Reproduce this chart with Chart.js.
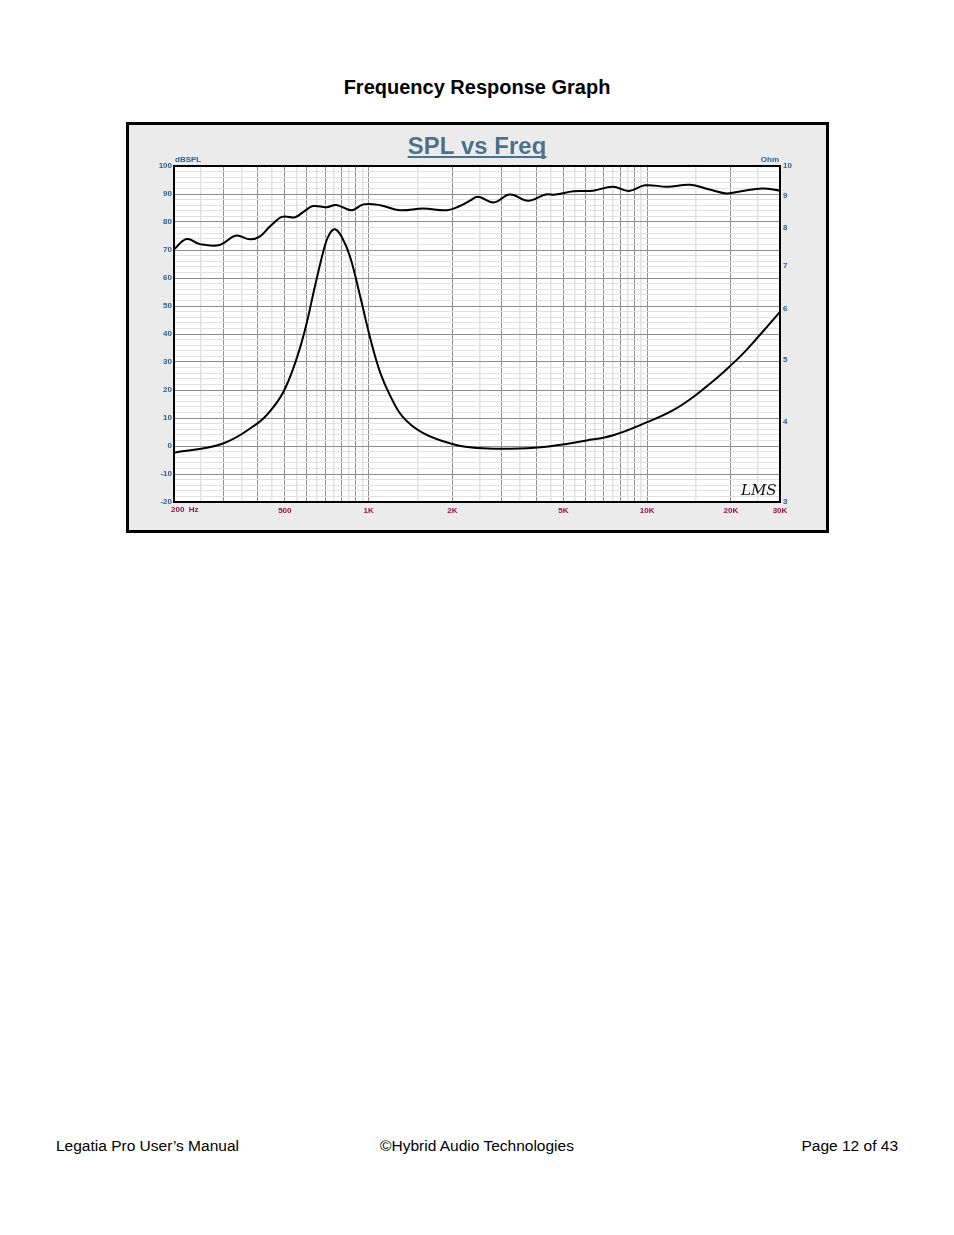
<!DOCTYPE html>
<html>
<head>
<meta charset="utf-8">
<script src="https://cdn.jsdelivr.net/npm/chart.js@4.4.0/dist/chart.umd.min.js"></script>
<style>
  body { margin: 0; background: #fff; font-family: "Liberation Sans", Arial, sans-serif; }
  #page { position: relative; width: 954px; height: 1235px; }
  #heading { position: absolute; top: 76px; left: 0; width: 954px; text-align: center; font-weight: bold; font-size: 20px; color: #000; }
  #frame { position: absolute; left: 126px; top: 122px; width: 703px; height: 411px; box-sizing: border-box; border: 3px solid #000; background: #ebebeb; }
  #frame canvas { display: block; }
  .foot { position: absolute; top: 1137px; font-size: 15.5px; color: #000; }
</style>
</head>
<body>
<div id="page">
  <div id="heading">Frequency Response Graph</div>
  <div id="frame"><canvas id="splchart" width="697" height="405"></canvas></div>
  <div class="foot" style="left:56px">Legatia Pro User’s Manual</div>
  <div class="foot" style="left:0;width:954px;text-align:center">©Hybrid Audio Technologies</div>
  <div class="foot" style="right:56px">Page 12 of 43</div>
</div>
<script>
// SPL curve (dB)
const splFreq = [200, 222, 248, 292, 333, 375, 406, 440, 480, 500, 544, 590, 632, 706, 765, 869, 958, 1102, 1294, 1570, 1909, 2127, 2311, 2467, 2812, 3214, 3741, 4322, 4681, 5438, 6400, 7532, 8600, 9825, 11830, 14250, 16630, 19260, 21750, 25900, 30000];
const splValues = [70.2, 73.9, 72.1, 71.8, 75.1, 73.8, 74.8, 78.2, 81.5, 82.0, 81.7, 84.0, 85.7, 85.3, 86.1, 84.2, 86.3, 86.0, 84.2, 84.8, 84.2, 85.7, 87.6, 89.0, 87.0, 89.8, 87.6, 89.8, 89.8, 91.0, 91.2, 92.6, 91.1, 93.1, 92.6, 93.3, 91.7, 90.2, 91.0, 92.0, 91.2];

// impedance curve (Ohm)
const impFreq = [200, 300, 400, 442, 494, 544, 591, 641, 697, 726, 758, 800, 857, 933, 1017, 1102, 1192, 1326, 1570, 2013, 2467, 3126, 4152, 6066, 7556, 9962, 12410, 14650, 16360, 18010, 19830, 22140, 24750, 27220, 30000];
const impValues = [3.58, 3.70, 3.98, 4.15, 4.45, 4.93, 5.56, 6.49, 7.53, 7.86, 7.97, 7.76, 7.23, 6.26, 5.36, 4.76, 4.40, 4.07, 3.84, 3.69, 3.64, 3.63, 3.65, 3.74, 3.81, 3.99, 4.17, 4.37, 4.54, 4.70, 4.88, 5.11, 5.39, 5.65, 5.93];

// axis labels
const freqLabels = { 500: "500", 1000: "1K", 2000: "2K", 5000: "5K", 10000: "10K", 20000: "20K", 30000: "30K" };
const ohmTicks = [3, 4, 5, 6, 7, 8, 9, 10];

const blue = "#2d5e92";
const red = "#8e1447";
const font = "Liberation Sans";

// grid every 1/2 step of each decade, 200 .. 30000
const freqGrid = [];
[100, 1000, 10000].forEach(d => {
  for (let m = 1; m < 10; m += 0.5) {
    const f = m * d;
    if (f >= 200 && f <= 30000) freqGrid.push(f);
  }
});

const isMajorFreq = v => {
  const d = Math.pow(10, Math.floor(Math.log10(v) + 1e-9));
  return Math.abs(v / d - Math.round(v / d)) < 1e-6;
};

const decor = {
  id: "decor",
  beforeDraw(chart) {
    const { ctx, chartArea: a } = chart;
    ctx.save();
    ctx.fillStyle = "#fff";
    ctx.fillRect(a.left, a.top, a.right - a.left, a.bottom - a.top);
    ctx.restore();
  },
  afterDraw(chart) {
    const { ctx, chartArea: a } = chart;
    ctx.save();
    ctx.strokeStyle = "#000";
    ctx.lineWidth = 2;
    ctx.strokeRect(a.left, a.top, a.right - a.left, a.bottom - a.top);

    // title
    ctx.fillStyle = "#4b728c";
    ctx.font = "bold 24px '" + font + "'";
    ctx.textAlign = "center";
    ctx.textBaseline = "alphabetic";
    const t = "SPL vs Freq";
    ctx.fillText(t, 348, 29);
    const w = ctx.measureText(t).width;
    ctx.fillRect(348 - w / 2, 31, w, 2);

    ctx.font = "bold 8px '" + font + "'";
    ctx.fillStyle = blue;
    ctx.textAlign = "left";
    ctx.fillText("dBSPL", a.left + 1, a.top - 4);
    ctx.textAlign = "right";
    ctx.fillText("Ohm", a.right - 1, a.top - 4);

    ctx.fillStyle = red;
    ctx.textAlign = "left";
    ctx.textBaseline = "middle";
    ctx.fillText("200  Hz", a.left - 3, a.bottom + 8);

    ctx.fillStyle = "#111";
    ctx.font = "italic 15px 'DejaVu Serif'";
    ctx.textAlign = "left";
    ctx.textBaseline = "alphabetic";
    ctx.fillText("LMS", 612, 370);
    ctx.restore();
  }
};

const data = {
  datasets: [
    {
      label: "SPL",
      data: splFreq.map((f, i) => ({ x: f, y: splValues[i] })),
      yAxisID: "y",
      borderColor: "#000",
      borderWidth: 2,
      pointRadius: 0,
      tension: 0.4
    },
    {
      label: "Impedance",
      data: impFreq.map((f, i) => ({ x: f, y: impValues[i] })),
      yAxisID: "y2",
      borderColor: "#000",
      borderWidth: 2,
      pointRadius: 0,
      tension: 0.4
    }
  ]
};

const options = {
  responsive: false,
  animation: false,
  layout: { padding: { top: 41, left: 0, right: 0, bottom: 0 } },
  plugins: { legend: { display: false }, tooltip: { enabled: false } },
  scales: {
    x: {
      type: "logarithmic",
      min: 200,
      max: 30000,
      afterBuildTicks: s => { s.ticks = freqGrid.map(v => ({ value: v })); },
      afterFit: s => { s.height = 28; },
      grid: {
        drawTicks: false,
        color: c => (c.tick && isMajorFreq(c.tick.value) ? "#8f8f8f" : "#e2e2e2"),
        lineWidth: c => (c.tick && isMajorFreq(c.tick.value) ? 1 : 1.5)
      },
      border: { color: "#000", width: 2 },
      ticks: {
        autoSkip: false,
        maxRotation: 0,
        padding: 4,
        color: red,
        font: { family: font, size: 8, weight: "bold" },
        callback: v => freqLabels[v] || ""
      }
    },
    y: {
      type: "linear",
      position: "left",
      min: -20,
      max: 100,
      afterFit: s => { s.width = 45; },
      grid: {
        drawTicks: false,
        color: c => (c.tick && c.tick.value % 10 === 0 ? "#8f8f8f" : "#e2e2e2")
      },
      border: { color: "#000", width: 2 },
      ticks: {
        stepSize: 2,
        autoSkip: false,
        padding: 2,
        color: blue,
        font: { family: font, size: 8, weight: "bold" },
        callback: v => (v % 10 === 0 ? v : "")
      }
    },
    y2: {
      type: "logarithmic",
      position: "right",
      min: 3,
      max: 10,
      afterBuildTicks: s => { s.ticks = ohmTicks.map(v => ({ value: v })); },
      afterFit: s => { s.width = 46; },
      grid: { display: false, drawTicks: false },
      border: { color: "#000", width: 2 },
      ticks: {
        autoSkip: false,
        padding: 3,
        color: blue,
        font: { family: font, size: 8, weight: "bold" },
        callback: v => String(v)
      }
    }
  }
};

new Chart("splchart", { type: "line", data, options: options, plugins: [decor] });
</script>
</body>
</html>
